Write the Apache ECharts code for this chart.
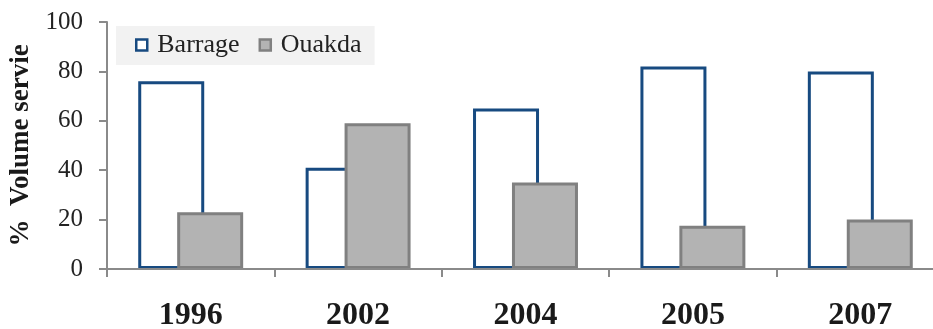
<!DOCTYPE html>
<html>
<head>
<meta charset="utf-8">
<script src="https://cdn.jsdelivr.net/npm/echarts@6/dist/echarts.min.js"></script>
<style>
  html, body { margin: 0; padding: 0; background: #fff; }
  #chart { width: 933px; height: 329px; }
</style>
</head>
<body>
<div id="chart"></div>
<script>
// Share of served volume by source, per year
const years = ['1996', '2002', '2004', '2005', '2007'];
const barrage = [76, 41, 65, 82, 80];
const ouakda = [23, 59, 35, 17.5, 20];
const seriesNames = ['Barrage', 'Ouakda'];

const serif = '"Liberation Serif", "Times New Roman", serif';
const axisGray = '#8a8a8a';
const blue = '#174a80';

const chart = echarts.init(document.getElementById('chart'), null, { renderer: 'canvas' });

chart.setOption({
  animation: false,
  backgroundColor: '#ffffff',
  // plot area runs a little past the right edge of the canvas
  grid: { left: 107, width: 837, top: 22, bottom: 60, containLabel: false, outerBoundsMode: 'none' },
  legend: {
    left: 116,
    top: 26,
    backgroundColor: '#f2f2f2',
    padding: [6, 13, 7, 19],
    itemGap: 19,
    itemWidth: 11,
    itemHeight: 11,
    icon: 'rect',
    textStyle: { fontFamily: serif, fontSize: 26, color: '#222', padding: [0, 0, 0, 5] },
    data: [
      { name: seriesNames[0], itemStyle: { color: '#ffffff', borderColor: blue, borderWidth: 2.5 } },
      { name: seriesNames[1], itemStyle: { color: '#b3b3b3', borderColor: '#808080', borderWidth: 2.5 } }
    ]
  },
  xAxis: {
    type: 'category',
    data: years,
    boundaryGap: true,
    axisLine: { show: true, lineStyle: { color: axisGray, width: 2 } },
    axisTick: { show: true, length: 8, inside: false, lineStyle: { color: axisGray, width: 2 } },
    axisLabel: {
      fontFamily: serif, fontSize: 32, fontWeight: 'bold', color: '#1a1a1a', margin: 31
    },
    z: 10
  },
  yAxis: {
    type: 'value',
    min: 0,
    max: 100,
    interval: 20,
    name: '%  Volume servie',
    nameLocation: 'middle',
    nameGap: 71,
    nameRotate: 90,
    nameTextStyle: { fontFamily: serif, fontSize: 27, fontWeight: 'bold', color: '#1a1a1a' },
    axisLine: { show: true, lineStyle: { color: axisGray, width: 2 } },
    axisTick: { show: true, length: 8, lineStyle: { color: axisGray, width: 2 } },
    axisLabel: { fontFamily: serif, fontSize: 25, color: '#222', margin: 24 },
    splitLine: { show: false }
  },
  series: [
    {
      name: seriesNames[0],
      type: 'bar',
      data: barrage,
      barWidth: 66,
      barGap: '-41%',
      itemStyle: { color: '#ffffff', borderColor: blue, borderWidth: 3 },
      z: 2
    },
    {
      name: seriesNames[1],
      type: 'bar',
      data: ouakda,
      barWidth: 66,
      barGap: '-41%',
      itemStyle: { color: '#b3b3b3', borderColor: '#808080', borderWidth: 3 },
      z: 3
    }
  ]
});
</script>
</body>
</html>
